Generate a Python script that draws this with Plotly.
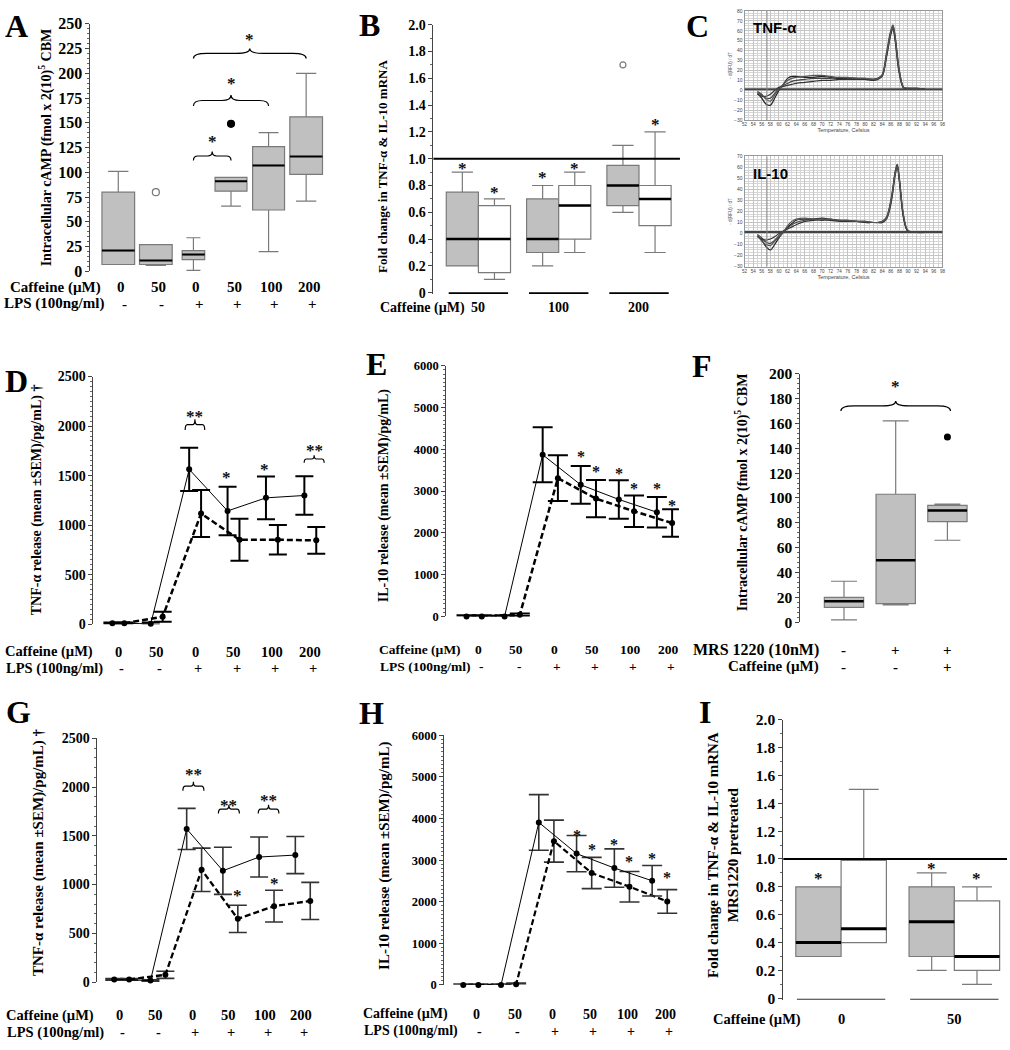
import plotly.graph_objects as go

W, H = 1010, 1050
SERIF = "Liberation Serif, Times New Roman, serif"
SANS = "Liberation Sans, Arial, sans-serif"

# ---------------- DATA ----------------
# Panel A: intracellular cAMP boxes
A_caffeine = ["0", "50", "0", "50", "100", "200"]
A_lps = ["-", "-", "+", "+", "+", "+"]
A_low = [7, 6, 1, 66, 20, 71]
A_q1 = [7, 7, 12, 81, 62, 98]
A_med = [21, 11, 17, 91, 107, 116]
A_q3 = [80, 27, 21, 95, 126, 156]
A_high = [101, 27, 34, 95, 140, 200]
A_out_box = [2, 4]
A_out_val = [80, 149]
A_out_filled = [False, True]
A_sig_from = [3, 3, 3]
A_sig_to = [4, 5, 6]
A_sig_end = [112, 167, 215]
A_sig_tip = [121, 178, 225]
A_sig_star = [134, 193, 237]
A_ticks = [0, 25, 50, 75, 100, 125, 150, 175, 200, 225, 250]

# Panel B: fold change mRNA (TNF-a grey, IL-10 white)
B_groups = ["50", "100", "200"]
B_tnf_low = [0.2, 0.2, 0.6]
B_tnf_q1 = [0.2, 0.3, 0.65]
B_tnf_med = [0.4, 0.4, 0.8]
B_tnf_q3 = [0.75, 0.7, 0.95]
B_tnf_high = [0.9, 0.8, 1.1]
B_il_low = [0.1, 0.3, 0.3]
B_il_q1 = [0.15, 0.4, 0.5]
B_il_med = [0.4, 0.65, 0.7]
B_il_q3 = [0.65, 0.8, 0.8]
B_il_high = [0.7, 0.9, 1.2]
B_tnf_outlier = [None, None, 1.7]
B_tnf_star = [0.95, 0.88, None]
B_il_star = [0.77, 0.95, 1.28]
FOLD_tickvals = [0, 0.2, 0.4, 0.6, 0.8, 1.0, 1.2, 1.4, 1.6, 1.8, 2.0]
FOLD_ticktext = ["0", "0.2", "0.4", "0.6", "0.8", "1.0", "1.2", "1.4", "1.6", "1.8", "2.0"]

# Panel C: melt curves
C_temp_tnf = [55, 56, 57, 58, 59, 60, 61, 62, 63, 64, 66, 68, 70, 72, 74, 76, 78, 80, 82, 83, 84, 85, 86, 86.5, 87, 88, 89, 90, 92, 94]
C_tnf_1 = [-3, -8, -14, -15, -8, 0, 6, 12, 14, 14, 13, 13, 14, 13, 12, 12, 12, 11, 11, 12, 15, 35, 58, 65, 55, 20, 3, 2, 2, 1]
C_tnf_2 = [-2, -5, -8, -8, -3, 2, 5, 7, 9, 10, 11, 12, 12, 12, 13, 12, 12, 12, 11, 12, 16, 38, 60, 64, 52, 18, 3, 2, 2, 1]
C_tnf_3 = [-4, -6, -6, -4, 0, 3, 4, 5, 6, 7, 8, 9, 10, 10, 11, 11, 11, 11, 10, 11, 14, 33, 56, 62, 50, 16, 2, 2, 1, 1]
C_tnf_4 = [-1, -4, -9, -11, -5, 1, 6, 10, 12, 13, 14, 15, 15, 14, 13, 13, 12, 12, 11, 12, 15, 36, 59, 66, 54, 19, 3, 2, 2, 1]
C_temp_il = [55, 56, 57, 58, 59, 60, 61, 62, 63, 64, 66, 68, 70, 72, 74, 76, 78, 80, 82, 83, 84, 85, 86, 86.5, 87, 87.5, 88, 89, 90, 92, 94]
C_il_1 = [-2, -6, -12, -15, -10, -4, 1, 6, 9, 12, 13, 13, 14, 13, 12, 12, 11, 11, 10, 10, 10, 14, 28, 40, 55, 62, 50, 15, 2, 1, 1]
C_il_2 = [-1, -4, -8, -9, -6, -2, 2, 5, 8, 10, 12, 13, 13, 12, 12, 11, 11, 10, 10, 10, 11, 15, 30, 42, 56, 63, 48, 13, 2, 1, 1]
C_il_3 = [-3, -5, -6, -5, -3, 0, 2, 4, 6, 8, 11, 12, 12, 12, 11, 11, 11, 10, 10, 10, 10, 13, 26, 38, 52, 60, 47, 14, 2, 1, 1]
C_il_4 = [-2, -7, -10, -11, -7, -3, 1, 7, 11, 13, 14, 13, 13, 13, 12, 12, 11, 11, 10, 10, 11, 14, 29, 41, 54, 61, 49, 16, 3, 1, 1]
C_threshold = [1, 1.3]
C_marker_temp = 57.2

# Line panels D, E, G, H
LINE_caffeine = ["0", "50", "0", "50", "100", "200"]
LINE_lps = ["-", "-", "+", "+", "+", "+"]

D_solid = [10, 5, 1564, 1144, 1276, 1300]
D_solid_sem = [8, 12, 218, 245, 215, 195]
D_dash = [10, 76, 1118, 853, 853, 847]
D_dash_sem = [8, 50, 238, 212, 150, 135]
D_brace_x0 = [1.74, 4.84]
D_brace_x1 = [2.25, 5.36]
D_brace_end = [1961, 1630]
D_brace_tip = [2070, 1706]
D_brace_text_y = [2126, 1789]
D_star_x = [2.82, 3.81]
D_star_y = [1514, 1597]

E_solid = [0, 0, 3870, 3150, 2800, 2494]
E_solid_sem = [25, 25, 660, 450, 460, 365]
E_dash = [0, 40, 3310, 2820, 2518, 2235]
E_dash_sem = [25, 30, 550, 445, 375, 330]
E_star_pts = [("s", 3), ("d", 3), ("s", 4), ("d", 4), ("s", 5), ("d", 5)]
E_star_y = [3906, 3529, 3482, 3129, 3129, 2729]

G_solid = [27, 15, 1570, 1141, 1282, 1302]
G_solid_sem = [8, 8, 211, 242, 205, 190]
G_dash = [27, 74, 1151, 648, 778, 832]
G_dash_sem = [8, 37, 222, 140, 163, 190]
G_brace_x0 = [1.69, 2.67, 3.77]
G_brace_x1 = [2.27, 3.25, 4.34]
G_brace_end = [1963, 1728, 1728]
G_brace_tip = [2054, 1819, 1819]
G_brace_text_y = [2164, 1846, 1896]
G_star_pts = [("d", 3), ("d", 4)]
G_star_y = [923, 1040]

H_solid = [0, 0, 3907, 3157, 2811, 2504]
H_solid_sem = [25, 25, 668, 434, 461, 366]
H_dash = [0, 20, 3457, 2691, 2362, 2008]
H_dash_sem = [25, 25, 505, 375, 366, 284]
H_star_pts = [("s", 3), ("d", 3), ("s", 4), ("d", 4), ("s", 5), ("d", 5)]
H_star_y = [3653, 3338, 3456, 3047, 3102, 2646]

# Panel F
F_mrs = ["-", "+", "+"]
F_caff = ["-", "-", "+"]
F_low = [2, 14, 66]
F_q1 = [12, 15, 81]
F_med = [17, 50, 90]
F_q3 = [20, 103, 94]
F_high = [33, 162, 95]
F_out_box = [3]
F_out_val = [149]
F_sig = dict(x0=1, x1=3, end=170, tip=178, star=192)

# Panel I
I_groups = ["0", "50"]
I_tnf_low = [0.3, 0.2]
I_tnf_q1 = [0.3, 0.3]
I_tnf_med = [0.4, 0.55]
I_tnf_q3 = [0.8, 0.8]
I_tnf_high = [0.8, 0.9]
I_il_low = [0.4, 0.1]
I_il_q1 = [0.4, 0.2]
I_il_med = [0.5, 0.3]
I_il_q3 = [0.99, 0.7]
I_il_high = [1.5, 0.8]
I_tnf_star = [0.88, 0.95]
I_il_star = [None, 0.88]

# ---------------- FIGURE ----------------
fig = go.Figure()
layout = {}
annotations = []
shapes = []


def ax_keys(ax):
    return ax[0] + "axis" + ax[1:]


def set_axes(xa, ya, px, py, xrange, yrange, tsize=15, yextra=None):
    xd = dict(domain=[px[0] / W, px[1] / W], range=xrange, visible=False,
              anchor=ya, fixedrange=True)
    yd = dict(domain=[1 - py[1] / H, 1 - py[0] / H], range=yrange, anchor=xa,
              showline=True, linecolor="#444", linewidth=1, ticks="outside",
              ticklen=4, tickcolor="#444", showgrid=False, zeroline=False,
              tickfont=dict(family=SERIF, size=tsize, color="black", weight="bold"), fixedrange=True)
    if yextra:
        yd.update(yextra)
    layout[ax_keys(xa)] = xd
    layout[ax_keys(ya)] = yd


def text(x, y, s, xref="paper", yref="paper", size=15, bold=True, xanchor="center",
         yanchor="middle", angle=0, family=SERIF, color="black", xshift=0, yshift=0):
    if xref == "paper":
        x = x / W
    if yref == "paper":
        y = 1 - y / H
    annotations.append(dict(x=x, y=y, xref=xref, yref=yref, text=("<b>%s</b>" % s) if bold else s,
                            showarrow=False, xanchor=xanchor, yanchor=yanchor, textangle=angle,
                            font=dict(family=family, size=size, color=color),
                            xshift=xshift, yshift=yshift, borderpad=0))


def star(x, y, s, xa, ya, size=17):
    text(x, y, s, xref=xa, yref=ya, size=size, bold=True, color="#111", yshift=-3)


def brace(xa, ya, x0, x1, yb, yt, width=1.2):
    xc = (x0 + x1) / 2
    ym = (yb + yt) / 2
    q = (x1 - x0) * 0.12
    path = (f"M {x0},{yb} Q {x0},{ym} {x0+q},{ym} L {xc-q},{ym} Q {xc},{ym} {xc},{yt} "
            f"Q {xc},{ym} {xc+q},{ym} L {x1-q},{ym} Q {x1},{ym} {x1},{yb}")
    shapes.append(dict(type="path", path=path, xref=xa, yref=ya,
                       line=dict(color="black", width=width)))


def add_box(xa, ya, pos, low, q1, med, q3, high, width, fill, medw=2.5, whisk=0.66):
    fig.add_trace(go.Box(x=[pos], q1=[q1], median=[med], q3=[q3], lowerfence=[low],
                         upperfence=[high], width=width, fillcolor=fill,
                         line=dict(color="#7a7a7a", width=1.2), whiskerwidth=whisk,
                         xaxis=xa, yaxis=ya, showlegend=False, hoverinfo="skip",
                         boxpoints=False))
    fig.add_trace(go.Scatter(x=[pos - width / 2, pos + width / 2], y=[med, med], mode="lines",
                             line=dict(color="black", width=medw), xaxis=xa, yaxis=ya,
                             showlegend=False, hoverinfo="skip", cliponaxis=False))


GREY = "#c0c0c0"

# ---------- Panel A ----------
set_axes("x", "y", (88, 325), (15, 267), [0.26, 6.53], [0, 250], tsize=16,
         yextra=dict(tickvals=A_ticks, minor=dict(ticks="outside", ticklen=2, tickcolor="#666",
                                                   tickmode="linear", tick0=0, dtick=5)))
A_width = [0.87, 0.87, 0.6, 0.85, 0.85, 0.87]
for i in range(6):
    add_box("x", "y", i + 1, A_low[i], A_q1[i], A_med[i], A_q3[i], A_high[i], A_width[i], GREY,
            medw=2, whisk=0.62)
for b, v, f in zip(A_out_box, A_out_val, A_out_filled):
    fig.add_trace(go.Scatter(x=[b], y=[v], mode="markers", xaxis="x", yaxis="y", showlegend=False,
                             marker=dict(size=7, color="black" if f else "white",
                                         line=dict(color="black" if f else "#777", width=1.2)),
                             cliponaxis=False))
for f0, t0, e, tp, s in zip(A_sig_from, A_sig_to, A_sig_end, A_sig_tip, A_sig_star):
    brace("x", "y", f0, t0, e, tp)
    star((f0 + t0) / 2, s, "*", "x", "y")
text(43, 141, "Intracellular cAMP (fmol x 2(10)<sup>5</sup> CBM", angle=-90, size=14)
text(6, 283, "Caffeine (µM)", xanchor="left")
text(0, 300, "LPS (100ng/ml)", xanchor="left")
for i in range(6):
    text(i + 1, 283, A_caffeine[i], xref="x", xshift=3)
    text(i + 1, 300, A_lps[i], xref="x", xshift=6)


# ---------- Panel B ----------
def fold_y():
    return dict(tickvals=FOLD_tickvals, ticktext=FOLD_ticktext,
                minor=dict(ticks="outside", ticklen=2, tickcolor="#666", tickmode="linear",
                           tick0=0, dtick=0.1))


set_axes("x2", "y2", (433, 681), (16, 290), [0.44, 3.51], [-0.01, 2.0], tsize=14, yextra=fold_y())
shapes.append(dict(type="line", xref="x2 domain", yref="y2", x0=0, x1=1, y0=1, y1=1,
                   line=dict(color="black", width=2)))
for g in range(3):
    c = g + 1
    add_box("x2", "y2", c - 0.2, B_tnf_low[g], B_tnf_q1[g], B_tnf_med[g], B_tnf_q3[g],
            B_tnf_high[g], 0.4, GREY)
    add_box("x2", "y2", c + 0.2, B_il_low[g], B_il_q1[g], B_il_med[g], B_il_q3[g],
            B_il_high[g], 0.4, "white")
    shapes.append(dict(type="line", xref="x2", yref="y2", x0=c - 0.37, x1=c + 0.37, y0=-0.005,
                       y1=-0.005, line=dict(color="black", width=2.2)))
    if B_tnf_outlier[g] is not None:
        fig.add_trace(go.Scatter(x=[c - 0.2], y=[B_tnf_outlier[g]], mode="markers", xaxis="x2",
                                 yaxis="y2", showlegend=False,
                                 marker=dict(size=6, color="white", line=dict(color="#777", width=1.2))))
    if B_tnf_star[g] is not None:
        star(c - 0.2, B_tnf_star[g], "*", "x2", "y2")
    if B_il_star[g] is not None:
        star(c + 0.2, B_il_star[g], "*", "x2", "y2")
    text(c, 304, B_groups[g], xref="x2", size=14)
text(382, 160, "Fold change in TNF-α & IL-10 mRNA", angle=-90, size=13)
text(378, 304, "Caffeine (µM)", xanchor="left", size=14)


# ---------- Panel C ----------
def c_axes(xa, ya, py, yrange):
    layout[ax_keys(xa)] = dict(domain=[746 / W, 945 / W], range=[52, 98], anchor=ya, dtick=2,
                               showgrid=True, gridcolor="#c4c4c4", gridwidth=0.6,
                               minor=dict(dtick=1, showgrid=True, gridcolor="#d6d6d6", gridwidth=0.5),
                               showline=True, mirror=True, linecolor="#999", ticks="", tickangle=0,
                               tickfont=dict(family=SANS, size=4.5, color="#444"),
                               title=dict(text="Temperature, Celsius", font=dict(family=SANS, size=5.5, color="#444"),
                                          standoff=1),
                               zeroline=False, fixedrange=True)
    layout[ax_keys(ya)] = dict(domain=[1 - py[1] / H, 1 - py[0] / H], range=yrange, anchor=xa, dtick=10,
                               showgrid=True, gridcolor="#c4c4c4", gridwidth=0.6,
                               minor=dict(dtick=2.5, showgrid=True, gridcolor="#d6d6d6", gridwidth=0.5),
                               showline=True, mirror=True, linecolor="#999", ticks="",
                               tickfont=dict(family=SANS, size=5, color="#444"),
                               title=dict(text="- d(RFU) / dT", font=dict(family=SANS, size=4.5, color="#555"),
                                          standoff=1),
                               zeroline=False, fixedrange=True)


c_axes("x3", "y3", (2, 113), [-30, 80])
c_axes("x4", "y4", (150, 262), [-30, 70])
curve_cols = ["#222222", "#444444", "#333333", "#555555"]
for k, cv in enumerate([C_tnf_1, C_tnf_2, C_tnf_3, C_tnf_4]):
    fig.add_trace(go.Scatter(x=C_temp_tnf, y=cv, mode="lines", xaxis="x3", yaxis="y3", showlegend=False,
                             line=dict(color=curve_cols[k], width=1.2, shape="spline")))
for k, cv in enumerate([C_il_1, C_il_2, C_il_3, C_il_4]):
    fig.add_trace(go.Scatter(x=C_temp_il, y=cv, mode="lines", xaxis="x4", yaxis="y4", showlegend=False,
                             line=dict(color=curve_cols[k], width=1.2, shape="spline")))
for (xa, ya), thr in zip([("x3", "y3"), ("x4", "y4")], C_threshold):
    shapes.append(dict(type="line", xref=xa + " domain", yref=ya, x0=0, x1=1, y0=thr, y1=thr,
                       line=dict(color="#444", width=2)))
    shapes.append(dict(type="line", xref=xa, yref=ya + " domain", x0=C_marker_temp, x1=C_marker_temp,
                       y0=0, y1=1, line=dict(color="#888", width=1)))
text(753, 19, "TNF-α", size=15, family=SANS, xanchor="left")
text(753, 167, "IL-10", size=15, family=SANS, xanchor="left")


# ---------- Line panels ----------
def line_panel(xa, ya, s_mean, s_sem, d_mean, d_sem, off_s, off_d, err_th, err_col, err_w, dash_w):
    n = len(s_mean)
    xs = [i + off_s for i in range(n)]
    xd = [i + off_d for i in range(n)]
    fig.add_trace(go.Scatter(x=xd, y=d_mean, mode="lines+markers", xaxis=xa, yaxis=ya, showlegend=False,
                             line=dict(color="black", width=dash_w, dash="6px,3px"),
                             marker=dict(size=6, color="black"), cliponaxis=False,
                             error_y=dict(type="data", array=d_sem, visible=True, color=err_col,
                                          thickness=err_th, width=err_w)))
    fig.add_trace(go.Scatter(x=xs, y=s_mean, mode="lines+markers", xaxis=xa, yaxis=ya, showlegend=False,
                             line=dict(color="black", width=1), marker=dict(size=6, color="black"),
                             cliponaxis=False,
                             error_y=dict(type="data", array=s_sem, visible=True, color=err_col,
                                          thickness=err_th, width=err_w)))
    return xs, xd


def rows(xa, cy, ly, hx, lshift=0, size=15):
    text(hx, cy, "Caffeine (µM)", xanchor="left", size=size)
    text(hx + 1, ly, "LPS (100ng/ml)", xanchor="left", size=size)
    for i in range(6):
        text(i, cy, LINE_caffeine[i], xref=xa, xshift=lshift, size=size)
        text(i, ly, LINE_lps[i], xref=xa, xshift=lshift + 3, size=size)


def minor(dt):
    return dict(ticks="outside", ticklen=2, tickcolor="#666", tickmode="linear", tick0=0, dtick=dt)


# D
set_axes("x5", "y5", (91, 330), (374, 626), [-0.648, 5.54], [0, 2500], tsize=14,
         yextra=dict(dtick=500, tick0=0, minor=minor(50)))
line_panel("x5", "y5", D_solid, D_solid_sem, D_dash, D_dash_sem, -0.155, 0.155, 2, "black", 9, 2.5)
for x0, x1, e, tp, ty in zip(D_brace_x0, D_brace_x1, D_brace_end, D_brace_tip, D_brace_text_y):
    brace("x5", "y5", x0, x1, e, tp)
    star((x0 + x1) / 2, ty, "**", "x5", "y5")
for sx, sy in zip(D_star_x, D_star_y):
    star(sx, sy, "*", "x5", "y5")
text(35, 499, "TNF-α release (mean ±SEM)/pg/mL) †", angle=-90, size=14)
rows("x5", 654, 671, 1, size=14.5)

# E
set_axes("x6", "y6", (446, 680), (363, 618), [-0.73, 5.38], [0, 6000], tsize=12.5,
         yextra=dict(dtick=1000, tick0=0, minor=minor(100)))
exs, exd = line_panel("x6", "y6", E_solid, E_solid_sem, E_dash, E_dash_sem, -0.2, 0.2, 2, "black", 10, 2.5)
for (kind, idx), sy in zip(E_star_pts, E_star_y):
    sx = exs[idx] if kind == "s" else exd[idx]
    star(sx, sy, "*", "x6", "y6", size=16)
text(383, 495, "IL-10 release (mean ±SEM)/pg/mL)", angle=-90, size=14)
rows("x6", 652, 669, 377, lshift=4, size=13.5)

# G
set_axes("x8", "y8", (95, 330), (742, 990), [-0.67, 5.78], [0, 2500], tsize=14,
         yextra=dict(dtick=500, tick0=0, minor=minor(100)))
gxs, gxd = line_panel("x8", "y8", G_solid, G_solid_sem, G_dash, G_dash_sem, -0.206, 0.206, 1.6, "#333", 9, 2.3)
for x0, x1, e, tp, ty in zip(G_brace_x0, G_brace_x1, G_brace_end, G_brace_tip, G_brace_text_y):
    brace("x8", "y8", x0, x1, e, tp)
    star((x0 + x1) / 2, ty, "**", "x8", "y8")
for (kind, idx), sy in zip(G_star_pts, G_star_y):
    sx = gxs[idx] if kind == "s" else gxd[idx]
    star(sx, sy, "*", "x8", "y8")
text(35, 858, "TNF-α release (mean ±SEM)/pg/mL) †", angle=-90, size=15)
rows("x8", 1024, 1041, 2, lshift=-2, size=14.5)

# H
set_axes("x9", "y9", (444, 680), (739, 993), [-0.70, 5.51], [0, 6000], tsize=12.5,
         yextra=dict(dtick=1000, tick0=0, minor=minor(100)))
hxs, hxd = line_panel("x9", "y9", H_solid, H_solid_sem, H_dash, H_dash_sem, -0.2, 0.2, 1.6, "#333", 10, 2.2)
for (kind, idx), sy in zip(H_star_pts, H_star_y):
    sx = hxs[idx] if kind == "s" else hxd[idx]
    star(sx, sy, "*", "x9", "y9", size=16)
text(383, 862, "IL-10 release (mean ±SEM)/pg/mL)", angle=-90, size=15)
rows("x9", 1023, 1040, 361, lshift=6, size=14)

# ---------- Panel F ----------
set_axes("x7", "y7", (802, 1000), (371, 624), [0.154, 3.96], [0, 200], tsize=15.5,
         yextra=dict(dtick=20, tick0=0, minor=minor(4)))
for i in range(3):
    add_box("x7", "y7", i + 1, F_low[i], F_q1[i], F_med[i], F_q3[i], F_high[i], 0.76, GREY, medw=2.5)
for b, v in zip(F_out_box, F_out_val):
    fig.add_trace(go.Scatter(x=[b], y=[v], mode="markers", xaxis="x7", yaxis="y7", showlegend=False,
                             marker=dict(size=7, color="black")))
brace("x7", "y7", F_sig["x0"] - 0.06, F_sig["x1"] + 0.06, F_sig["end"], F_sig["tip"])
star((F_sig["x0"] + F_sig["x1"]) / 2, F_sig["star"], "*", "x7", "y7")
text(743, 492, "Intracellular cAMP (fmol x 2(10)<sup>5</sup> CBM", angle=-90, size=14)
text(822, 652, "MRS 1220 (10nM)", xanchor="right", size=16)
text(822, 669, "Caffeine (µM)", xanchor="right", size=15)
for i in range(3):
    text(i + 1, 652, F_mrs[i], xref="x7")
    text(i + 1, 669, F_caff[i], xref="x7")

# ---------- Panel I ----------
set_axes("x10", "y10", (785, 1010), (723, 1008), [0.49, 2.465], [-0.01, 2.0], tsize=15.5,
         yextra=fold_y())
shapes.append(dict(type="line", xref="x10 domain", yref="y10", x0=0, x1=1, y0=1, y1=1,
                   line=dict(color="black", width=2)))
for g in range(2):
    c = g + 1
    add_box("x10", "y10", c - 0.2, I_tnf_low[g], I_tnf_q1[g], I_tnf_med[g], I_tnf_q3[g],
            I_tnf_high[g], 0.4, GREY, medw=3)
    add_box("x10", "y10", c + 0.2, I_il_low[g], I_il_q1[g], I_il_med[g], I_il_q3[g],
            I_il_high[g], 0.4, "white", medw=3)
    shapes.append(dict(type="line", xref="x10", yref="y10", x0=c - 0.39, x1=c + 0.39, y0=-0.008,
                       y1=-0.008, line=dict(color="#333", width=1.5)))
    if I_tnf_star[g] is not None:
        star(c - 0.2, I_tnf_star[g], "*", "x10", "y10")
    if I_il_star[g] is not None:
        star(c + 0.2, I_il_star[g], "*", "x10", "y10")
    text(c, 1028, I_groups[g], xref="x10", size=14.5)
text(725, 861, "Fold change in TNF-α & IL-10 mRNA<br>MRS1220 pretreated", angle=-90, size=15)
text(713, 1028, "Caffeine (µM)", xanchor="left", size=14.5)

# ---------- Panel letters ----------
for lab, lx, ly in [("A", 1, 17.5), ("B", 357, 16.5), ("C", 686, 17.5), ("D", 1, 378), ("E", 364, 361),
                    ("F", 692, 363), ("G", 2, 715), ("H", 357, 716), ("I", 699, 715)]:
    text(lx, ly, lab, size=32, xanchor="left", yanchor="middle")

layout.update(dict(width=W, height=H, margin=dict(l=0, r=0, t=0, b=0), paper_bgcolor="white",
                   plot_bgcolor="white", showlegend=False, annotations=annotations, shapes=shapes,
                   boxmode="overlay"))
fig.update_layout(**layout)
fig.write_html("out.html", config={"displayModeBar": False},
               post_script="document.body.style.margin='0';document.body.style.overflow='hidden';"
                           "document.documentElement.style.overflow='hidden';")
